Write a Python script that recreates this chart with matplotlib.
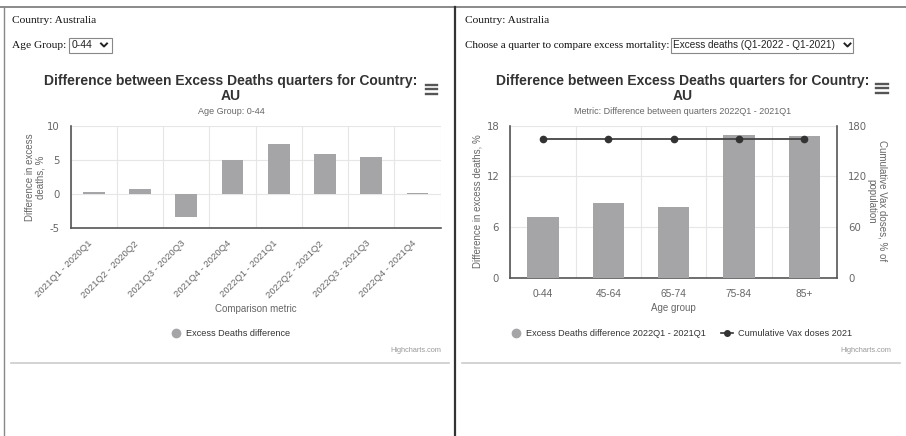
import matplotlib
matplotlib.use("Agg")
import matplotlib.pyplot as plt
from matplotlib.lines import Line2D
from matplotlib.patches import Rectangle
import numpy as np

plt.rcParams["axes.unicode_minus"] = False

# ---------------- data ----------------
left_categories = ["2021Q1 - 2020Q1", "2021Q2 - 2020Q2", "2021Q3 - 2020Q3", "2021Q4 - 2020Q4",
                   "2022Q1 - 2021Q1", "2022Q2 - 2021Q2", "2022Q3 - 2021Q3", "2022Q4 - 2021Q4"]
left_values = [0.3, 0.75, -3.4, 4.9, 7.3, 5.9, 5.45, 0.1]
left_yticks = [-5, 0, 5, 10]

right_categories = ["0-44", "45-64", "65-74", "75-84", "85+"]
right_excess = [7.2, 8.9, 8.4, 16.9, 16.75]
right_vax = [164, 164, 164, 164, 164]
right_yticks_left = [0, 6, 12, 18]
right_yticks_right = [0, 60, 120, 180]

W, H = 906, 436
fig = plt.figure(figsize=(W / 100, H / 100), dpi=100)
fig.patch.set_facecolor("white")

SANS = ["Liberation Sans", "DejaVu Sans"]
SERIF = ["Liberation Serif", "DejaVu Serif"]
BAR = "#a5a5a8"
GRID = "#e6e6e6"
AXC = "#555555"
LAB = "#666666"
TIT = "#333333"


def px(x, y):
    return x / W, 1 - y / H


def add_ax(l, t, r, b):
    return fig.add_axes([l / W, 1 - b / H, (r - l) / W, (b - t) / H])


def ftext(x, y, s, **kw):
    fx, fy = px(x, y)
    fig.text(fx, fy, s, **kw)


def fline(xs, ys, **kw):
    fxs = [x / W for x in xs]
    fys = [1 - y / H for y in ys]
    fig.add_artist(Line2D(fxs, fys, transform=fig.transFigure, **kw))


def fdot(x, y, size, color):
    fig.add_artist(Line2D([x / W], [1 - y / H], transform=fig.transFigure, marker="o",
                          markersize=size, markerfacecolor=color, markeredgecolor=color, lw=0))


def frect(x, y, w, h, **kw):
    fig.add_artist(Rectangle((x / W, 1 - (y + h) / H), w / W, h / H, transform=fig.transFigure, **kw))


def chevron(x, y):
    fline([x - 3, x, x + 3], [y - 1.5, y + 1.5, y - 1.5], color="#222222", lw=1.4)


def hamburger(x0, x1, ys):
    for yy in ys:
        fline([x0, x1], [yy, yy], color="#555555", lw=1.7)


# ---------------- frame ----------------
fline([0, W], [7, 7], color="#777777", lw=1.2)
fline([4, 4], [7, H], color="#888888", lw=1.0)
fline([455, 455], [7, H], color="#333333", lw=1.6)
fline([11, 449], [363, 363], color="#cccccc", lw=1.2)
fline([462, 900], [363, 363], color="#cccccc", lw=1.2)

# ---------------- HTML text ----------------
ftext(12, 20.5, "Country: Australia", family=SERIF, fontsize=8.2, color="#111111", va="center")
ftext(12, 45.5, "Age Group:", family=SERIF, fontsize=8.2, color="#111111", va="center")
frect(69, 38, 43, 15, facecolor="white", edgecolor="#888888", lw=0.8)
ftext(72, 45.5, "0-44", family=SANS, fontsize=7.5, color="#222222", va="center")
chevron(104, 45)

ftext(465, 20.5, "Country: Australia", family=SERIF, fontsize=8.2, color="#111111", va="center")
ftext(465, 45.5, "Choose a quarter to compare excess mortality:", family=SERIF, fontsize=7.9,
      color="#111111", va="center")
frect(671, 38, 182, 15, facecolor="white", edgecolor="#888888", lw=0.8)
ftext(673, 45.5, "Excess deaths (Q1-2022 - Q1-2021)", family=SANS, fontsize=7.2, color="#222222",
      va="center")
chevron(847.5, 45)

# ---------------- left chart ----------------
ftext(231, 81, "Difference between Excess Deaths quarters for Country:", family=SANS,
      fontsize=10, fontweight="bold", color=TIT, ha="center", va="center")
ftext(231, 96, "AU", family=SANS, fontsize=10, fontweight="bold", color=TIT, ha="center", va="center")
ftext(231, 111, "Age Group: 0-44", family=SANS, fontsize=6.5, color=LAB, ha="center", va="center")
hamburger(426, 437, [85, 89.5, 94])

axL = add_ax(70.7, 125.7, 440.7, 228)
xl = np.arange(len(left_categories))
axL.bar(xl, left_values, width=0.47, color=BAR, zorder=3)
axL.set_xlim(-0.5, len(left_categories) - 0.5)
axL.set_ylim(left_yticks[0], left_yticks[-1])
axL.set_yticks(left_yticks)
axL.set_xticks(np.arange(-0.5, len(left_categories), 1.0), minor=False)
axL.set_xticklabels([])
axL.grid(True, color=GRID, lw=0.8, zorder=0)
axL.tick_params(length=0, labelsize=7.3, labelcolor=LAB, pad=8)
for s in ["top", "right"]:
    axL.spines[s].set_visible(False)
axL.spines["left"].set_color(AXC)
axL.spines["left"].set_linewidth(1.2)
axL.spines["bottom"].set_color(AXC)
axL.spines["bottom"].set_linewidth(1.2)
for i, lab in enumerate(left_categories):
    axL.annotate(lab, xy=(i, 0), xycoords=("data", "axes fraction"), xytext=(-6, -11),
                 textcoords="offset pixels", rotation=45, ha="right", va="top",
                 rotation_mode="anchor", fontsize=6.8, color=LAB, family=SANS)
ftext(35, 177, "Difference in excess\ndeaths, %", family=SANS, fontsize=7, color=LAB,
      rotation=90, ha="center", va="center", linespacing=1.05)
ftext(256, 309, "Comparison metric", family=SANS, fontsize=7, color=LAB, ha="center", va="center")
fdot(176, 333, 6, BAR)
ftext(186, 333.5, "Excess Deaths difference", family=SANS, fontsize=6.6, color="#333333",
      ha="left", va="center")
ftext(441, 350, "Highcharts.com", family=SANS, fontsize=5.3, color="#999999", ha="right", va="center")

# ---------------- right chart ----------------
ftext(683, 81, "Difference between Excess Deaths quarters for Country:", family=SANS,
      fontsize=10, fontweight="bold", color=TIT, ha="center", va="center")
ftext(683, 96, "AU", family=SANS, fontsize=10, fontweight="bold", color=TIT, ha="center", va="center")
ftext(683, 111, "Metric: Difference between quarters 2022Q1 - 2021Q1", family=SANS, fontsize=6.5,
      color=LAB, ha="center", va="center")
hamburger(876, 888, [84, 88.5, 93])

axR = add_ax(510.3, 125.7, 837, 277.7)
xr = np.arange(len(right_categories))
axR.bar(xr, right_excess, width=0.48, color=BAR, zorder=3)
axR.set_xlim(-0.5, len(right_categories) - 0.5)
axR.set_ylim(right_yticks_left[0], right_yticks_left[-1])
axR.set_yticks(right_yticks_left)
axR.set_xticks(np.arange(-0.5, len(right_categories), 1.0))
axR.set_xticklabels([])
axR.grid(True, color=GRID, lw=0.8, zorder=0)
axR.tick_params(length=0, labelsize=7.3, labelcolor=LAB, pad=8)
for s in ["top", "right"]:
    axR.spines[s].set_visible(False)
for s in ["left", "bottom"]:
    axR.spines[s].set_color(AXC)
    axR.spines[s].set_linewidth(1.2)
for i, lab in enumerate(right_categories):
    axR.annotate(lab, xy=(i, 0), xycoords=("data", "axes fraction"), xytext=(0, -11),
                 textcoords="offset pixels", ha="center", va="top", fontsize=7.3, color=LAB,
                 family=SANS)

axR2 = axR.twinx()
axR2.plot(xr, right_vax, color="#444444", lw=1.3, marker="o", markersize=4.5,
          markerfacecolor="#333333", markeredgecolor="#333333", zorder=4)
axR2.set_ylim(right_yticks_right[0], right_yticks_right[-1])
axR2.set_yticks(right_yticks_right)
axR2.tick_params(length=0, labelsize=7.3, labelcolor=LAB, pad=8)
for s in ["top", "left", "bottom"]:
    axR2.spines[s].set_visible(False)
axR2.spines["right"].set_color(AXC)
axR2.spines["right"].set_linewidth(1.2)

ftext(478, 201, "Difference in excess deaths, %", family=SANS, fontsize=7, color=LAB,
      rotation=90, ha="center", va="center")
ftext(877, 201, "Cumulative Vax doses, % of\npopulation", family=SANS, fontsize=7, color=LAB,
      rotation=270, ha="center", va="center", linespacing=1.05)
ftext(673.5, 308, "Age group", family=SANS, fontsize=7, color=LAB, ha="center", va="center")

fdot(516, 333, 6, BAR)
ftext(526, 333.5, "Excess Deaths difference 2022Q1 - 2021Q1", family=SANS, fontsize=6.6,
      color="#333333", ha="left", va="center")
fline([721, 733], [333, 333], color="#333333", lw=1.2)
fdot(727, 333, 4, "#333333")
ftext(738, 333.5, "Cumulative Vax doses 2021", family=SANS, fontsize=6.6, color="#333333",
      ha="left", va="center")
ftext(891, 350, "Highcharts.com", family=SANS, fontsize=5.3, color="#999999", ha="right", va="center")

fig.savefig("out.png", dpi=100, facecolor="white")
